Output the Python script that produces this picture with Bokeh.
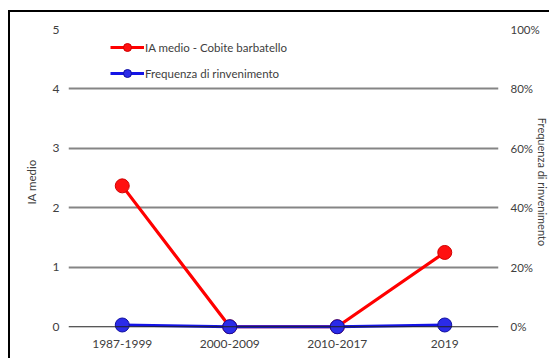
from bokeh.plotting import figure
from bokeh.models import Range1d, LinearAxis, FixedTicker, Legend, LegendItem, CustomJSTickFormatter, Span
from bokeh.embed import file_html
from bokeh.resources import INLINE

categories = ["1987-1999", "2000-2009", "2010-2017", "2019"]
ia_medio = [2.37, 0.0, 0.0, 1.25]
frequenza = [0.006, 0.0, 0.0, 0.006]
left_ticks = [0, 1, 2, 3, 4, 5]
right_ticks = [0, 0.2, 0.4, 0.6, 0.8, 1.0]

FONT = "Lato"
TXT = "#404040"

p = figure(width=541, height=348, x_range=categories, y_range=Range1d(-0.13, 5),
           output_backend="svg", toolbar_location=None,
           min_border_left=58, min_border_right=53, min_border_top=17, min_border_bottom=26)
p.styles = {"margin-left": "8px", "margin-top": "10px",
            "border-left": "2px solid black", "border-top": "2px solid black"}
p.x_range.range_padding = 0
p.outline_line_color = None
p.extra_y_ranges = {"pct": Range1d(-0.026, 1.0)}

p.xgrid.grid_line_color = None
p.ygrid.ticker = FixedTicker(ticks=left_ticks[1:])
p.ygrid.grid_line_color = "#858585"
p.ygrid.grid_line_width = 1.8
p.add_layout(Span(location=left_ticks[0], dimension="width", line_color="#202020", line_width=1.2))

p.yaxis.ticker = FixedTicker(ticks=left_ticks)
p.yaxis.axis_label = "IA medio"
for ax in [p.yaxis[0], p.xaxis[0]]:
    ax.axis_line_color = None
    ax.major_tick_line_color = None
    ax.minor_tick_line_color = None
    ax.major_tick_out = 0
    ax.major_tick_in = 0
    ax.minor_tick_out = 0
    ax.major_label_text_font = FONT
    ax.major_label_text_font_size = "12px"
    ax.major_label_text_color = TXT
    ax.axis_label_text_font = FONT
    ax.axis_label_text_font_size = "11.5px"
    ax.axis_label_text_font_style = "normal"
    ax.axis_label_text_color = TXT
p.yaxis.major_label_standoff = 9
p.yaxis.axis_label_standoff = 12
p.xaxis.major_label_standoff = 5

ra = LinearAxis(y_range_name="pct", ticker=FixedTicker(ticks=right_ticks),
                axis_label="Frequenza di rinvenimento")
ra.formatter = CustomJSTickFormatter(code="return Math.round(tick*100) + '%';")
ra.axis_line_color = None
ra.major_tick_line_color = None
ra.minor_tick_line_color = None
ra.major_tick_out = 0
ra.major_tick_in = 0
ra.minor_tick_out = 0
ra.major_label_text_font = FONT
ra.major_label_text_font_size = "11.5px"
ra.major_label_text_color = TXT
ra.axis_label_text_font = FONT
ra.axis_label_text_font_size = "11px"
ra.axis_label_text_font_style = "normal"
ra.axis_label_text_color = TXT
ra.major_label_standoff = 12
ra.axis_label_standoff = -7
p.add_layout(ra, "right")

rl = p.line(categories, ia_medio, line_color="#ff0000", line_width=3.2)
rs = p.scatter(categories, ia_medio, size=14, fill_color="#ff1010", line_color="#d00000", line_width=1)
bl = p.line(categories, frequenza, line_color="#1414e6", line_width=3.2, y_range_name="pct")
bs = p.scatter(categories, frequenza, size=14, fill_color="#2b2be8", line_color="#1010a0", line_width=1,
               y_range_name="pct")

legend = Legend(items=[LegendItem(label="IA medio - Cobite barbatello", renderers=[rl, rs]),
                       LegendItem(label="Frequenza di rinvenimento", renderers=[bl, bs])],
                location=(42, 251))
legend.border_line_color = None
legend.background_fill_alpha = 0
legend.glyph_width = 34
legend.glyph_height = 20
legend.spacing = 6
legend.padding = 2
legend.margin = 0
legend.label_standoff = 1
legend.label_text_font = FONT
legend.label_text_font_size = "11.5px"
legend.label_text_color = TXT
p.add_layout(legend, "center")

open("out.html", "w").write(file_html(p, INLINE))
